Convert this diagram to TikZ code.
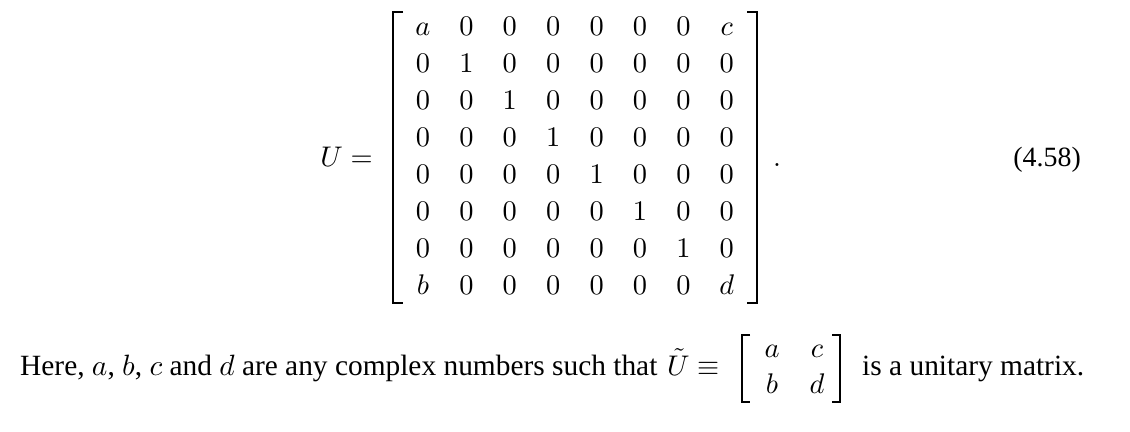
\documentclass[tikz,border=0pt]{standalone}
\usepackage{fontspec}
\setmainfont{Liberation Serif}
\DeclareFontFamily{OT1}{cmr}{\hyphenchar\font45 }
\DeclareFontShape{OT1}{cmr}{m}{n}{<-> cmr10}{}
\DeclareFontFamily{OML}{cmm}{\skewchar\font127 }
\DeclareFontShape{OML}{cmm}{m}{it}{<-> cmmi10}{}
\DeclareFontFamily{OMS}{cmsy}{\skewchar\font48 }
\DeclareFontShape{OMS}{cmsy}{m}{n}{<-> cmsy10}{}
\tikzset{
  ent/.style={inner sep=0pt, anchor=base, font=\fontsize{28.5}{34}\selectfont},
  txt/.style={inner sep=0pt, font=\fontsize{29.5}{35}\selectfont},
  brk/.style={line width=2.2bp, line cap=butt, line join=miter}
}
\begin{document}
\begin{tikzpicture}[x=1bp,y=-1bp]
\useasboundingbox (0,0) rectangle (1130,431);
% big matrix entries
\foreach \r/\entries in {1/{a,0,0,0,0,0,0,c},2/{0,1,0,0,0,0,0,0},3/{0,0,1,0,0,0,0,0},4/{0,0,0,1,0,0,0,0},5/{0,0,0,0,1,0,0,0},6/{0,0,0,0,0,1,0,0},7/{0,0,0,0,0,0,1,0},8/{b,0,0,0,0,0,0,d}}{
  \foreach \e [count=\c] in \entries {
    \node[ent] (m-\r-\c) at ({423+43.4*(\c-1)},{35+37.1*(\r-1)}) {$\e$};
  }
}
% brackets of big matrix
\draw[brk] (403,12) -- (393,12) -- (393,303) -- (403,303);
\draw[brk] (747,12) -- (757,12) -- (757,303) -- (747,303);
\node[ent, anchor=base east] (lhs) at (373,166) {$U =$};
\node[ent] (dot) at (777,166) {$.$};
\node[inner sep=0pt, anchor=base east, font=\fontsize{28}{34}\selectfont] (eqno) at (1081,166) {(4.58)};
% bottom line
\node[txt, anchor=base west] (t1) at (20,375) {Here, $a$, $b$, $c$ and $d$ are any complex numbers such that};
\node[ent, anchor=base west] (ut) at (667,375) {$\tilde U \equiv$};
\node[ent] (s-1-1) at (772,357) {$a$};
\node[ent] (s-1-2) at (817,357) {$c$};
\node[ent] (s-2-1) at (772,393) {$b$};
\node[ent] (s-2-2) at (817,393) {$d$};
\draw[brk] (750,335) -- (742,335) -- (742,402) -- (750,402);
\draw[brk] (832,335) -- (840,335) -- (840,402) -- (832,402);
\node[txt, anchor=base west] (t2) at (862,375) {is a unitary matrix.};
\end{tikzpicture}
\end{document}
